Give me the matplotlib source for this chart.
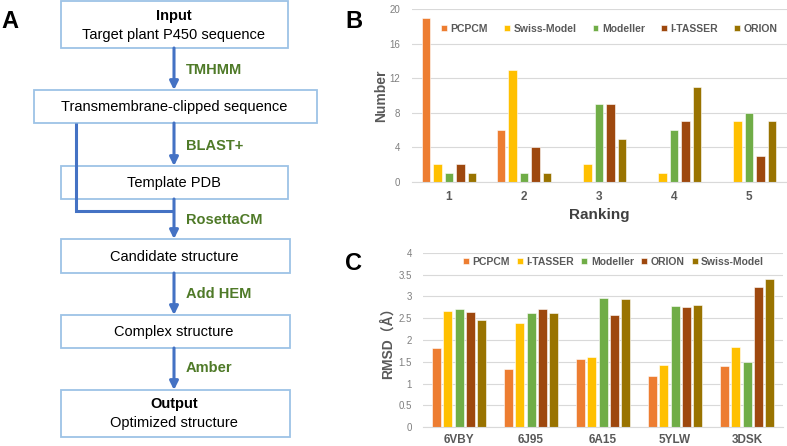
import matplotlib
matplotlib.use("Agg")
import matplotlib.pyplot as plt
import numpy as np
from matplotlib.patches import Rectangle

plt.rcParams["font.family"] = ["Liberation Sans", "DejaVu Sans"]

# panel B data
rankings = ["1", "2", "3", "4", "5"]
b_series = ["PCPCM", "Swiss-Model", "Modeller", "I-TASSER", "ORION"]
b_pcpcm = [19, 6, 0, 0, 0]
b_swiss = [2, 13, 2, 1, 7]
b_modeller = [1, 1, 9, 6, 8]
b_itasser = [2, 4, 9, 7, 3]
b_orion = [1, 1, 5, 11, 7]

# panel C data
pdb_ids = ["6VBY", "6J95", "6A15", "5YLW", "3DSK"]
c_series = ["PCPCM", "I-TASSER", "Modeller", "ORION", "Swiss-Model"]
c_pcpcm = [1.82, 1.33, 1.56, 1.18, 1.41]
c_itasser = [2.67, 2.39, 1.61, 1.42, 1.85]
c_modeller = [2.70, 2.61, 2.96, 2.78, 1.49]
c_orion = [2.65, 2.71, 2.58, 2.75, 3.21]
c_swiss = [2.46, 2.62, 2.95, 2.80, 3.40]

# flowchart steps
steps = ["Transmembrane-clipped sequence", "Template PDB",
         "Candidate structure", "Complex structure"]
tools = ["TMHMM", "BLAST+", "RosettaCM", "Add HEM", "Amber"]

colors = ["#ED7D31", "#FFC000", "#70AD47", "#9E480E", "#997300"]
W, H = 787, 446

fig = plt.figure(figsize=(W / 100, H / 100), dpi=100)


def px_axes(left, top, right, bottom):
    return fig.add_axes([left / W, 1 - bottom / H, (right - left) / W, (bottom - top) / H])


# ---------- panel A (flowchart) ----------
ov = fig.add_axes([0, 0, 1, 1])
ov.set_xlim(0, W)
ov.set_ylim(H, 0)
ov.axis("off")

edge = "#9DC3E6"
arrow_c = "#4472C4"
green = "#4F7A28"
cx = 174


def box(x0, y0, x1, y1):
    ov.add_patch(Rectangle((x0, y0), x1 - x0, y1 - y0, facecolor="white",
                           edgecolor=edge, lw=1.3, zorder=2))


def arrow(y0, y1):
    ov.annotate("", xy=(cx, y1), xytext=(cx, y0),
                arrowprops=dict(arrowstyle="-|>,head_length=0.5,head_width=0.25",
                                color=arrow_c, lw=2.2, shrinkA=0, shrinkB=0), zorder=3)


fs = 10.5
box(61, 1, 288, 48)
ov.text(cx, 16, "Input", ha="center", va="center", fontsize=fs, fontweight="bold")
ov.text(cx, 35, "Target plant P450 sequence", ha="center", va="center", fontsize=fs)

box(34, 90, 317, 123)
ov.text(cx, 107, steps[0], ha="center", va="center", fontsize=fs)
box(61, 166, 288, 199)
ov.text(cx, 183, steps[1], ha="center", va="center", fontsize=fs)
box(61, 239, 290, 273)
ov.text(cx, 257, steps[2], ha="center", va="center", fontsize=fs)
box(61, 315, 290, 348)
ov.text(cx, 332, steps[3], ha="center", va="center", fontsize=fs)
box(61, 390, 290, 437)
ov.text(cx, 404, "Output", ha="center", va="center", fontsize=fs, fontweight="bold")
ov.text(cx, 423, "Optimized structure", ha="center", va="center", fontsize=fs)

arrow(48, 90)
arrow(123, 166)
arrow(199, 239)
arrow(273, 315)
arrow(348, 390)
ov.plot([76, 76, cx], [123, 211, 211], color=arrow_c, lw=2.2,
        solid_capstyle="butt", solid_joinstyle="miter", zorder=3)

for t, y in zip(tools, [70, 146, 220, 294, 368]):
    ov.text(186, y, t, ha="left", va="center", fontsize=10.5,
            fontweight="bold", color=green)

for letter, x, y in [("A", 10, 22), ("B", 354, 22), ("C", 354, 263)]:
    ov.text(x, y, letter, ha="center", va="center", fontsize=17, fontweight="bold")


def style(ax, ymax, ticks, xpad):
    ax.set_ylim(0, ymax)
    ax.set_xlim(-0.5, 4.5)
    ax.set_yticks(ticks)
    ax.grid(axis="y", color="#D9D9D9", lw=0.8)
    ax.set_axisbelow(True)
    for s in ["top", "right", "left"]:
        ax.spines[s].set_visible(False)
    ax.spines["bottom"].set_color("#D9D9D9")
    ax.tick_params(axis="y", length=0, colors="#7F7F7F", labelsize=7, pad=8)
    ax.tick_params(axis="x", length=0, labelsize=8.5, pad=xpad)
    for lab in ax.get_xticklabels():
        lab.set_fontweight("bold")
        lab.set_color("#595959")
    ax.patch.set_alpha(0)


def legend(ax, x0, yc, spacing):
    leg = ax.legend(loc="center left", bbox_to_anchor=(x0, yc), ncol=5, frameon=False,
                    handlelength=0.55, handleheight=0.55, columnspacing=spacing,
                    handletextpad=0.35, borderpad=0, borderaxespad=0,
                    prop={"weight": "bold", "size": 7.5})
    for t in leg.get_texts():
        t.set_color("#595959")


# ---------- panel B ----------
axb = px_axes(411.5, 9.3, 786.5, 181.7)
x = np.arange(len(rankings))
pitch, bw = 0.153, 0.11
for i, (vals, name) in enumerate(zip([b_pcpcm, b_swiss, b_modeller, b_itasser, b_orion], b_series)):
    axb.bar(x + (i - 2) * pitch, vals, bw, color=colors[i], label=name, edgecolor="white", lw=0.4)
axb.set_xticks(x, rankings)
style(axb, 20, [0, 4, 8, 12, 16, 20], 7)
axb.set_ylabel("Number", fontsize=10, fontweight="bold", color="#595959", labelpad=1)
axb.set_xlabel("Ranking", fontsize=11, fontweight="bold", color="#404040", labelpad=3)
legend(axb, (441 - 411.5) / 375, (181.7 - 29) / 172.4, 1.55)

# ---------- panel C ----------
axc = px_axes(423, 252.7, 783, 427.3)
x = np.arange(len(pdb_ids))
bw = 0.125
for i, (vals, name) in enumerate(zip([c_pcpcm, c_itasser, c_modeller, c_orion, c_swiss], c_series)):
    axc.bar(x + (i - 2) * pitch, vals, bw, color=colors[i], label=name, edgecolor="white", lw=0.4)
axc.set_xticks(x, pdb_ids)
style(axc, 4, [0, 0.5, 1, 1.5, 2, 2.5, 3, 3.5, 4], 4.5)
axc.set_yticklabels(["0", "0.5", "1", "1.5", "2", "2.5", "3", "3.5", "4"])
axc.set_ylabel("RMSD（Å）", fontsize=10, fontweight="bold", color="#595959", labelpad=3,
               fontfamily=["Liberation Sans", "Noto Sans CJK SC"])
legend(axc, (463 - 423) / 360, (427.3 - 262) / 174.6, 0.7)

fig.savefig("out.png", dpi=100)
